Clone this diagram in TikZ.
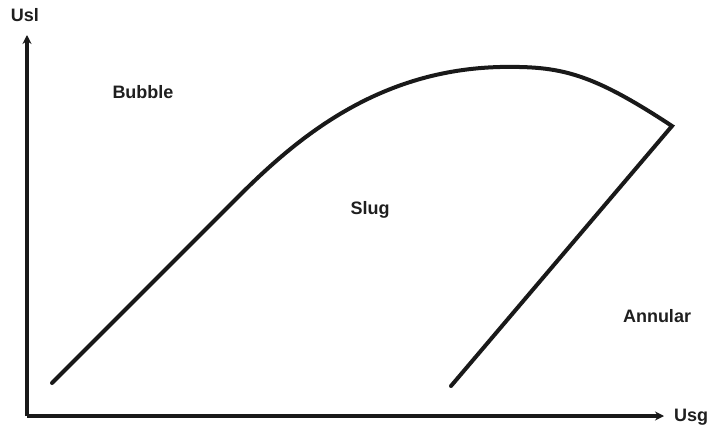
\documentclass[tikz,border=0pt]{standalone}
\usepackage{fontspec}
\setmainfont{Liberation Sans}
\usetikzlibrary{arrows.meta}
\tikzset{
  lbl/.style={font=\bfseries\fontsize{18}{20}\selectfont, text=black!88, inner sep=0pt, anchor=base},
  axis/.style={line width=4.5pt, draw=black!90, -{Stealth[length=9pt,width=9pt,inset=3pt]}},
  boundary/.style={line width=4pt, draw=black!90, line join=miter, line cap=round}
}
\begin{document}
\begin{tikzpicture}[x=1pt,y=-1pt]
\useasboundingbox (0,0) rectangle (709,428);
\coordinate (O) at (27,416);
\coordinate (Ytip) at (27,35);
\coordinate (Xtip) at (664,416);
\draw[axis] (O) -- (Ytip);
\draw[axis] (O) -- (Xtip);
\coordinate (s) at (52,383);
\coordinate (a) at (240,195);
\coordinate (p) at (500,67);
\coordinate (c) at (672,126);
\coordinate (e) at (451,386);
\draw[boundary] (s) -- (a) .. controls (300,135) and (380,70) .. (p)
  .. controls (560,66) and (590,72) .. (c) -- (e);
\node[lbl] (usl) at (25,22) {Usl};
\node[lbl] (usg) at (691,421) {Usg};
\node[lbl] (bubble) at (143,98) {Bubble};
\node[lbl] (slug) at (370,214) {Slug};
\node[lbl] (annular) at (657,322) {Annular};
\end{tikzpicture}
\end{document}
